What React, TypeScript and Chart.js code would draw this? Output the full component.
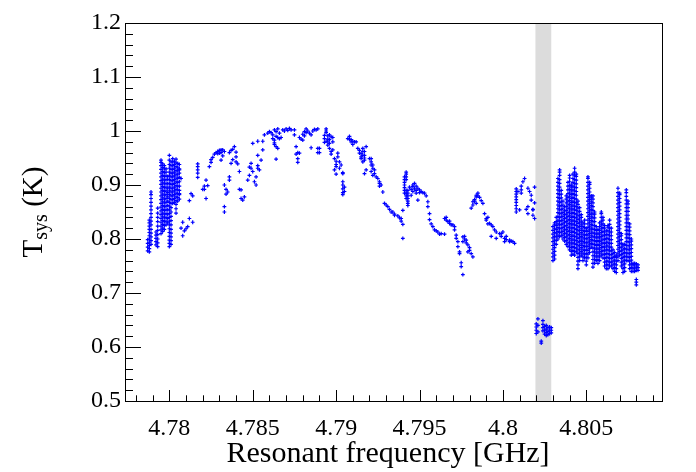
import { useEffect, useRef } from "react";
import { Chart, registerables } from "chart.js";

Chart.register(...registerables);

// each row: [frequency GHz, Tsys K, Tsys K, ...]
const leftScan: number[][] = [
  [4.7787, 0.778, 0.785, 0.792, 0.799],
  [4.7788, 0.776, 0.782, 0.788, 0.794, 0.8, 0.806, 0.812, 0.818, 0.824, 0.83, 0.835],
  [4.7789, 0.79, 0.797, 0.804, 0.811, 0.818, 0.826, 0.833, 0.84, 0.847, 0.854, 0.861, 0.868, 0.875, 0.882, 0.887],
  [4.7792, 0.789, 0.795, 0.801, 0.807, 0.813],
  [4.7793, 0.786, 0.793, 0.8, 0.808, 0.816, 0.824, 0.832, 0.84, 0.848, 0.857],
  [4.7795, 0.81, 0.817, 0.824, 0.831, 0.838, 0.845, 0.852, 0.859, 0.866, 0.873, 0.88, 0.887, 0.894, 0.901, 0.908, 0.915, 0.922, 0.929, 0.936, 0.942, 0.946],
  [4.7796, 0.814, 0.82, 0.827, 0.834, 0.841, 0.848, 0.855, 0.862, 0.869, 0.876, 0.883, 0.89, 0.897, 0.904, 0.911, 0.918, 0.925, 0.932, 0.939],
  [4.7797, 0.818, 0.825, 0.832, 0.839, 0.846, 0.853, 0.86, 0.867, 0.874, 0.881, 0.888, 0.895, 0.902, 0.909, 0.916, 0.923, 0.93, 0.936],
  [4.7798, 0.826, 0.833, 0.84, 0.847, 0.854, 0.861, 0.868, 0.875, 0.882, 0.889, 0.896, 0.903, 0.91, 0.917, 0.924, 0.93],
  [4.7799, 0.83, 0.838, 0.846, 0.854, 0.862, 0.87, 0.878, 0.886, 0.894, 0.902, 0.91, 0.916],
  [4.78, 0.786, 0.792, 0.798, 0.805, 0.812, 0.819, 0.826, 0.833, 0.84, 0.847, 0.854, 0.861, 0.868, 0.875, 0.882, 0.889, 0.896, 0.903, 0.91, 0.917, 0.924, 0.931, 0.938, 0.946, 0.955],
  [4.7801, 0.79, 0.797, 0.804, 0.811, 0.818, 0.826, 0.834, 0.842, 0.85, 0.858, 0.866, 0.873, 0.88, 0.887, 0.894, 0.901, 0.908, 0.915, 0.922, 0.929, 0.936, 0.943],
  [4.7802, 0.866, 0.873, 0.88, 0.887, 0.894, 0.901, 0.908, 0.915, 0.922, 0.929, 0.936, 0.943, 0.949],
  [4.7803, 0.868, 0.875, 0.882, 0.889, 0.896, 0.903, 0.91, 0.917, 0.924, 0.931, 0.938, 0.944],
  [4.7804, 0.848, 0.856, 0.864, 0.871, 0.878, 0.885, 0.892, 0.899, 0.906, 0.913, 0.92, 0.927, 0.934, 0.941, 0.948],
  [4.7805, 0.87, 0.877, 0.884, 0.891, 0.898, 0.905, 0.912, 0.919, 0.926, 0.933, 0.94],
  [4.7806, 0.874, 0.882, 0.89, 0.898, 0.906, 0.914, 0.922, 0.93, 0.938],
];

const midScan: number[][] = [
  [4.7806, 0.928], [4.7807, 0.912], [4.7806, 0.884],
  [4.7808, 0.831], [4.7807, 0.82], [4.7809, 0.815], [4.781, 0.819], [4.7811, 0.823], [4.7812, 0.838], [4.7814, 0.831], [4.7808, 0.806],
  [4.7812, 0.871], [4.7813, 0.884], [4.7814, 0.88],
  [4.7817, 0.939, 0.934, 0.928, 0.922, 0.914],
  [4.782, 0.892], [4.7821, 0.892, 0.898], [4.7822, 0.909, 0.875], [4.7823, 0.899],
  [4.7824, 0.934], [4.7825, 0.942, 0.947], [4.7826, 0.951], [4.7827, 0.957],
  [4.7828, 0.96], [4.7829, 0.962, 0.958], [4.783, 0.964, 0.959], [4.7831, 0.965, 0.96, 0.946], [4.7832, 0.965, 0.954], [4.7833, 0.962],
  [4.7833, 0.9, 0.86, 0.85], [4.7834, 0.892, 0.883], [4.7835, 0.887], [4.7836, 0.909, 0.915],
  [4.7836, 0.96], [4.7837, 0.964, 0.94], [4.7838, 0.966, 0.947], [4.7839, 0.971], [4.784, 0.961, 0.952, 0.943], [4.7841, 0.939],
  [4.7842, 0.925, 0.892], [4.7843, 0.891, 0.875], [4.7844, 0.872], [4.7845, 0.878],
  [4.7847, 0.909], [4.7848, 0.918, 0.933], [4.7849, 0.931, 0.94], [4.785, 0.925, 0.977], [4.7851, 0.906],
  [4.7852, 0.9, 0.915], [4.7853, 0.931, 0.936, 0.955, 0.981], [4.7854, 0.928], [4.7855, 0.946], [4.7856, 0.965, 0.981],
  [4.7857, 0.993], [4.7859, 0.996], [4.786, 0.999], [4.7861, 0.997],
  [4.7862, 0.986, 0.993], [4.7863, 1.002, 0.983, 0.975, 0.978], [4.7864, 0.999, 0.971, 0.948, 0.99], [4.7865, 1.004, 0.988, 0.968], [4.7866, 0.986, 0.996], [4.7867, 0.988],
  [4.7868, 1.002], [4.7869, 1.0], [4.787, 1.004], [4.7871, 1.001], [4.7872, 1.005], [4.7873, 1.002], [4.7875, 1.002, 0.993],
  [4.7876, 0.971, 0.957], [4.7877, 0.96, 0.949, 0.942], [4.7878, 0.959, 0.988], [4.7879, 0.985],
  [4.788, 0.994, 0.983], [4.7881, 0.999, 0.991], [4.7882, 1.004, 0.997], [4.7883, 1.0], [4.7884, 0.996],
  [4.7885, 0.969, 0.993], [4.7886, 1.0], [4.7887, 1.003], [4.7888, 1.002], [4.7889, 1.004, 0.968, 0.96], [4.789, 0.968, 0.96],
  [4.7893, 0.979, 0.986, 0.992], [4.7894, 1.004, 0.997, 0.981, 1.0], [4.7895, 0.991, 0.985, 0.98, 0.974], [4.7896, 0.993, 0.977, 0.984, 0.968],
  [4.7897, 0.989, 0.962, 0.957], [4.7898, 0.98, 0.988, 0.965],
  [4.7899, 0.949, 0.928], [4.79, 0.938, 0.934, 0.92, 0.944], [4.7901, 0.959, 0.952], [4.7902, 0.943, 0.931], [4.7903, 0.937],
  [4.7904, 0.923, 0.921, 0.906, 0.9, 0.893, 0.886, 0.882], [4.7905, 0.896, 0.888],
  [4.7907, 0.986], [4.7908, 0.985, 0.99], [4.7909, 0.98, 0.984], [4.791, 0.975, 0.981], [4.7911, 0.98], [4.7912, 0.98],
  [4.7913, 0.968], [4.7914, 0.959, 0.964], [4.7915, 0.952, 0.949, 0.958], [4.7916, 0.968, 0.943, 0.955, 0.962], [4.7917, 0.962, 0.955, 0.946, 0.921, 0.95], [4.7918, 0.971, 0.928],
  [4.792, 0.949], [4.7921, 0.943, 0.949, 0.937, 0.925], [4.7922, 0.931, 0.937, 0.918], [4.7923, 0.928, 0.921], [4.7924, 0.915], [4.7925, 0.912],
  [4.7926, 0.906, 0.903, 0.898], [4.7927, 0.9], [4.7928, 0.887],
  [4.7929, 0.866], [4.793, 0.863], [4.7931, 0.86], [4.7932, 0.855], [4.7933, 0.85], [4.7934, 0.85], [4.7935, 0.844, 0.846],
  [4.7937, 0.843], [4.7938, 0.839], [4.7939, 0.838, 0.833], [4.794, 0.853, 0.827, 0.801],
  [4.7941, 0.885, 0.89, 0.895, 0.9, 0.905, 0.91, 0.915],
  [4.7942, 0.875, 0.88, 0.885, 0.89, 0.91, 0.915, 0.92, 0.924],
  [4.7943, 0.862, 0.866, 0.87, 0.875, 0.88, 0.885, 0.89],
  [4.7944, 0.896], [4.7945, 0.881, 0.892], [4.7946, 0.897, 0.9, 0.888], [4.7947, 0.903, 0.893], [4.7948, 0.898, 0.885, 0.89],
  [4.7949, 0.894, 0.872], [4.795, 0.891, 0.886], [4.7951, 0.888], [4.7952, 0.886], [4.7953, 0.885], [4.7954, 0.88],
  [4.7955, 0.869, 0.86], [4.7956, 0.847, 0.836], [4.7957, 0.828], [4.7958, 0.823], [4.7959, 0.817], [4.796, 0.815],
  [4.7961, 0.813], [4.7962, 0.809], [4.7963, 0.81], [4.7965, 0.809, 0.838],
  [4.7966, 0.835, 0.84], [4.7967, 0.832], [4.7968, 0.829, 0.833], [4.7969, 0.826], [4.797, 0.826], [4.7971, 0.823, 0.817],
  [4.7972, 0.807, 0.801], [4.7973, 0.795, 0.786], [4.7974, 0.776, 0.773], [4.7975, 0.756, 0.749], [4.7976, 0.734, 0.804, 0.795],
  [4.7977, 0.805, 0.8], [4.7978, 0.793, 0.798], [4.7979, 0.789, 0.776], [4.798, 0.784, 0.779], [4.7981, 0.773], [4.7982, 0.767],
  [4.7981, 0.857], [4.7982, 0.863, 0.869], [4.7983, 0.873, 0.87], [4.7984, 0.878, 0.881, 0.866], [4.7985, 0.885, 0.88],
  [4.7986, 0.877], [4.7987, 0.871], [4.7988, 0.866],
  [4.7989, 0.847], [4.799, 0.838, 0.835], [4.7991, 0.84, 0.828], [4.7992, 0.829], [4.7993, 0.826, 0.805], [4.7994, 0.823],
  [4.7995, 0.817], [4.7996, 0.813, 0.801], [4.7998, 0.81], [4.7999, 0.81, 0.805], [4.8, 0.813], [4.8001, 0.801, 0.795],
  [4.8002, 0.799, 0.805], [4.8004, 0.795, 0.798], [4.8005, 0.796], [4.8006, 0.795], [4.8007, 0.792],
  [4.8008, 0.85, 0.856, 0.862, 0.868, 0.873, 0.878, 0.883, 0.888, 0.893],
  [4.8009, 0.888], [4.801, 0.854], [4.8011, 0.898, 0.891, 0.885], [4.8012, 0.906], [4.8013, 0.912],
  [4.8014, 0.855], [4.8015, 0.894, 0.847, 0.86], [4.8016, 0.888], [4.8017, 0.881, 0.872],
  [4.8018, 0.855, 0.854, 0.844], [4.8019, 0.838, 0.896, 0.867],
];

// points measured inside the vetoed window
const vetoedScan: number[][] = [
  [4.802, 0.625, 0.631, 0.637, 0.643],
  [4.8021, 0.628, 0.64, 0.652],
  [4.8023, 0.607, 0.611],
  [4.8024, 0.63, 0.636, 0.642, 0.649],
  [4.8025, 0.624, 0.631, 0.638],
  [4.8026, 0.621, 0.627, 0.633, 0.64],
  [4.8027, 0.623, 0.629, 0.636],
  [4.8028, 0.625, 0.631, 0.637],
  [4.8029, 0.626, 0.631, 0.636],
];

const rightScan: number[][] = [
  [4.803, 0.76, 0.767, 0.774, 0.781, 0.788, 0.795, 0.802, 0.809, 0.816, 0.823],
  [4.8031, 0.763, 0.77, 0.777, 0.784, 0.791, 0.798, 0.805, 0.812, 0.819, 0.826, 0.83],
  [4.8032, 0.79, 0.797, 0.804, 0.811, 0.818, 0.825, 0.832, 0.84],
  [4.8033, 0.8, 0.807, 0.814, 0.821, 0.828, 0.835, 0.842, 0.849, 0.856, 0.863, 0.87, 0.877, 0.884, 0.891, 0.898, 0.905, 0.912],
  [4.8034, 0.805, 0.812, 0.819, 0.826, 0.833, 0.84, 0.847, 0.854, 0.861, 0.868, 0.875, 0.882, 0.889, 0.896, 0.903, 0.91, 0.918, 0.924, 0.928],
  [4.8035, 0.806, 0.813, 0.82, 0.827, 0.834, 0.841, 0.848, 0.855, 0.862, 0.869, 0.876, 0.883, 0.89],
  [4.8036, 0.8, 0.807, 0.814, 0.821, 0.828, 0.835, 0.842, 0.849, 0.856, 0.863, 0.87],
  [4.8037, 0.796, 0.803, 0.81, 0.817, 0.824, 0.831, 0.838, 0.845, 0.852, 0.86],
  [4.8038, 0.79, 0.797, 0.804, 0.811, 0.818, 0.825, 0.832, 0.839, 0.846, 0.853, 0.86, 0.867, 0.874, 0.88],
  [4.8039, 0.786, 0.793, 0.8, 0.807, 0.814, 0.821, 0.828, 0.835, 0.842, 0.849, 0.856, 0.863, 0.87, 0.877, 0.884, 0.891, 0.898, 0.905],
  [4.804, 0.78, 0.787, 0.794, 0.801, 0.808, 0.815, 0.822, 0.829, 0.836, 0.843, 0.85, 0.857, 0.864, 0.871, 0.878, 0.885, 0.892, 0.899, 0.906, 0.913, 0.918],
  [4.8041, 0.77, 0.777, 0.784, 0.791, 0.798, 0.805, 0.812, 0.819, 0.826, 0.833, 0.84, 0.847, 0.854, 0.861, 0.868, 0.875, 0.882, 0.889, 0.896, 0.9],
  [4.8042, 0.772, 0.779, 0.786, 0.793, 0.8, 0.807, 0.814, 0.821, 0.828, 0.835, 0.842, 0.849, 0.856, 0.863, 0.87, 0.877, 0.884, 0.891, 0.898, 0.905, 0.912, 0.92],
  [4.8043, 0.77, 0.777, 0.784, 0.791, 0.798, 0.805, 0.812, 0.819, 0.826, 0.833, 0.84, 0.847, 0.854, 0.861, 0.868, 0.875, 0.882, 0.889, 0.896, 0.903, 0.91, 0.917, 0.924, 0.931],
  [4.8044, 0.776, 0.783, 0.79, 0.797, 0.804, 0.811, 0.818, 0.825, 0.832, 0.839, 0.846, 0.853, 0.86, 0.867, 0.874, 0.881, 0.888, 0.895, 0.902, 0.909, 0.916, 0.92],
  [4.8045, 0.745, 0.752, 0.759, 0.766, 0.773, 0.78, 0.787, 0.794, 0.801, 0.808, 0.815, 0.822, 0.829, 0.836, 0.843, 0.85, 0.857, 0.864, 0.87],
  [4.8046, 0.76, 0.767, 0.774, 0.781, 0.788, 0.795, 0.802, 0.809, 0.816, 0.823, 0.83, 0.837, 0.844, 0.851, 0.858],
  [4.8047, 0.77, 0.777, 0.784, 0.791, 0.798, 0.805, 0.812, 0.819, 0.826, 0.833, 0.84, 0.845],
  [4.8048, 0.76, 0.767, 0.774, 0.781, 0.788, 0.795, 0.802, 0.809, 0.816, 0.823, 0.83],
  [4.8049, 0.765, 0.772, 0.779, 0.786, 0.793, 0.8, 0.807, 0.814, 0.821, 0.828, 0.835],
  [4.805, 0.752, 0.759, 0.766, 0.773, 0.78, 0.787, 0.794, 0.801, 0.808, 0.815, 0.82],
  [4.8051, 0.765, 0.772, 0.779, 0.786, 0.793, 0.8, 0.807, 0.814, 0.821, 0.828, 0.835, 0.842, 0.849, 0.856, 0.863, 0.87, 0.877, 0.884, 0.891, 0.898, 0.905, 0.912, 0.915],
  [4.8052, 0.775, 0.782, 0.789, 0.796, 0.803, 0.81, 0.817, 0.824, 0.831, 0.838, 0.845, 0.852, 0.859, 0.866, 0.873, 0.88, 0.887, 0.894, 0.901, 0.905],
  [4.8053, 0.785, 0.792, 0.799, 0.806, 0.813, 0.82, 0.827, 0.834, 0.841, 0.848, 0.855, 0.862, 0.869, 0.876, 0.88],
  [4.8054, 0.748, 0.755, 0.762, 0.769, 0.776, 0.783, 0.79, 0.797, 0.804, 0.811, 0.818, 0.825, 0.832, 0.839, 0.846, 0.853, 0.86, 0.867, 0.874, 0.88],
  [4.8055, 0.755, 0.762, 0.769, 0.776, 0.783, 0.79, 0.797, 0.804, 0.811, 0.818, 0.825, 0.832, 0.839, 0.846, 0.85],
  [4.8056, 0.76, 0.767, 0.774, 0.781, 0.788, 0.795, 0.802, 0.809, 0.816, 0.823],
  [4.8057, 0.755, 0.762, 0.769, 0.776, 0.783, 0.79, 0.797, 0.804, 0.811, 0.818],
  [4.8058, 0.76, 0.767, 0.774, 0.781, 0.788, 0.795, 0.802, 0.809, 0.816, 0.823, 0.83],
  [4.8059, 0.77, 0.777, 0.784, 0.791, 0.798, 0.805, 0.812, 0.819, 0.826, 0.833, 0.84, 0.847, 0.85],
  [4.806, 0.765, 0.772, 0.779, 0.786, 0.793, 0.8, 0.807, 0.814, 0.821, 0.828, 0.835, 0.84],
  [4.8061, 0.75, 0.757, 0.764, 0.771, 0.778, 0.785, 0.792, 0.799, 0.806, 0.813, 0.82, 0.825],
  [4.8062, 0.745, 0.752, 0.759, 0.766, 0.773, 0.78, 0.787, 0.794, 0.801, 0.808, 0.815],
  [4.8063, 0.745, 0.752, 0.759, 0.766, 0.773, 0.78, 0.787, 0.794, 0.801, 0.808, 0.815, 0.822, 0.825],
  [4.8064, 0.75, 0.757, 0.764, 0.771, 0.778, 0.785, 0.792, 0.799, 0.806, 0.813, 0.82, 0.827, 0.835],
  [4.8065, 0.75, 0.757, 0.764, 0.771, 0.778, 0.785, 0.792, 0.799, 0.806, 0.813, 0.82],
  [4.8066, 0.745, 0.752, 0.759, 0.766, 0.773, 0.78],
  [4.8067, 0.74, 0.747, 0.754, 0.761, 0.768, 0.775],
  [4.8068, 0.738, 0.745, 0.752, 0.759, 0.766, 0.77],
  [4.8069, 0.76, 0.767, 0.774, 0.781, 0.788, 0.795, 0.802, 0.809, 0.816, 0.823, 0.83, 0.837, 0.844, 0.851, 0.858, 0.865, 0.872, 0.879, 0.886, 0.894],
  [4.807, 0.77, 0.777, 0.784, 0.791, 0.798, 0.805, 0.812, 0.819, 0.826, 0.833, 0.84, 0.847, 0.854, 0.861, 0.868, 0.875, 0.882, 0.885],
  [4.8071, 0.75, 0.757, 0.764, 0.771, 0.778, 0.785, 0.792, 0.799, 0.806, 0.81],
  [4.8072, 0.738, 0.745, 0.752, 0.759, 0.766, 0.773, 0.78, 0.787, 0.79],
  [4.8073, 0.74, 0.747, 0.754, 0.761, 0.768, 0.775, 0.782, 0.79],
  [4.8074, 0.76, 0.767, 0.774, 0.781, 0.788, 0.795, 0.802, 0.809, 0.816, 0.823, 0.83, 0.837, 0.844, 0.851, 0.858, 0.865, 0.872, 0.879, 0.886, 0.891],
  [4.8075, 0.76, 0.767, 0.774, 0.781, 0.788, 0.795, 0.802, 0.809, 0.816, 0.823, 0.83, 0.837, 0.844, 0.851, 0.858, 0.865, 0.87],
  [4.8076, 0.745, 0.752, 0.759, 0.766, 0.773, 0.78, 0.787, 0.794, 0.801, 0.808, 0.815, 0.822, 0.828],
  [4.8077, 0.74, 0.747, 0.754, 0.761, 0.768, 0.775, 0.782, 0.789, 0.796, 0.8],
  [4.8078, 0.74, 0.746, 0.752, 0.755],
  [4.8079, 0.74, 0.746, 0.752, 0.755],
  [4.808, 0.715, 0.72, 0.725, 0.742, 0.748, 0.754],
  [4.8081, 0.742, 0.747, 0.752],
];

const vetoWindow = [4.80195, 4.8029];
const xRange = [4.77734, 4.80954];
const yRange = [0.5, 1.2];
const xTitle = "Resonant frequency [GHz]";

const FONT = '"Liberation Serif", "Times New Roman", serif';

const toPoints = (rows: number[][]) =>
  rows.flatMap(([f, ...ts]) => ts.map((t) => ({ x: f, y: t })));

const vetoPlugin = {
  id: "vetoBand",
  beforeDatasetsDraw(chart: any) {
    const { ctx, chartArea, scales } = chart;
    const x0 = scales.x.getPixelForValue(vetoWindow[0]);
    const x1 = scales.x.getPixelForValue(vetoWindow[1]);
    ctx.save();
    ctx.fillStyle = "#dcdcdc";
    ctx.fillRect(x0, chartArea.top, x1 - x0, chartArea.bottom - chartArea.top);
    ctx.restore();
  },
};

// ROOT-like frame with ticks pointing inwards
const framePlugin = {
  id: "rootFrame",
  afterDraw(chart: any) {
    const { ctx, chartArea: a, scales } = chart;
    ctx.save();
    ctx.strokeStyle = "#000";
    ctx.lineWidth = 1;
    ctx.beginPath();
    const xs = scales.x;
    for (let v = Math.ceil(xs.min / 0.001) * 0.001; v <= xs.max; v += 0.001) {
      const px = Math.round(xs.getPixelForValue(v)) + 0.5;
      const major = Math.abs(v / 0.005 - Math.round(v / 0.005)) < 1e-6;
      ctx.moveTo(px, a.bottom);
      ctx.lineTo(px, a.bottom - (major ? 11 : 5.7));
    }
    const ys = scales.y;
    for (let v = ys.min; v <= ys.max + 1e-9; v += 0.02) {
      const py = Math.round(ys.getPixelForValue(v)) + 0.5;
      const major = Math.abs(v / 0.1 - Math.round(v / 0.1)) < 1e-6;
      ctx.moveTo(a.left, py);
      ctx.lineTo(a.left + (major ? 16 : 8), py);
    }
    ctx.stroke();
    ctx.strokeRect(Math.round(a.left) + 0.5, Math.round(a.top) + 0.5, Math.round(a.right - a.left), Math.round(a.bottom - a.top));
    ctx.restore();
  },
};

// axis titles, the y one with a subscript: T_sys (K)
const titlesPlugin = {
  id: "axisTitles",
  afterDraw(chart: any) {
    const { ctx } = chart;
    const big = `29px ${FONT}`;
    const small = `20px ${FONT}`;
    ctx.save();
    ctx.fillStyle = "#000";
    ctx.textBaseline = "alphabetic";

    ctx.font = `30px ${FONT}`;
    ctx.textAlign = "center";
    ctx.fillText(xTitle, 388, 462);
    ctx.textAlign = "left";

    ctx.translate(42, 212);
    ctx.rotate(-Math.PI / 2);
    ctx.font = big;
    const wT = ctx.measureText("T").width;
    const wK = ctx.measureText(" (K)").width;
    ctx.font = small;
    const wS = ctx.measureText("sys").width;
    let x = -(wT + wS + wK) / 2;
    ctx.font = big;
    ctx.fillText("T", x, 0);
    x += wT;
    ctx.font = small;
    ctx.fillText("sys", x, 5);
    x += wS;
    ctx.font = big;
    ctx.fillText(" (K)", x, 0);
    ctx.restore();
  },
};

const TsysChart = () => {
  const canvasRef = useRef<HTMLCanvasElement | null>(null);

  useEffect(() => {
    if (!canvasRef.current) return;
    const points = [
      ...toPoints(leftScan),
      ...toPoints(midScan),
      ...toPoints(vetoedScan),
      ...toPoints(rightScan),
    ];
    const chart = new Chart(canvasRef.current, {
      type: "scatter",
      data: {
        datasets: [
          {
            data: points,
            pointStyle: "cross",
            pointRadius: 1.9,
            pointHoverRadius: 1.9,
            pointBorderWidth: 1.2,
            borderColor: "#0000ff",
            backgroundColor: "#0000ff",
          },
        ],
      },
      options: {
        animation: false,
        responsive: true,
        maintainAspectRatio: false,
        layout: { padding: { top: 23, right: 34, left: 0, bottom: 0 } },
        plugins: { legend: { display: false }, tooltip: { enabled: false } },
        scales: {
          x: {
            type: "linear",
            min: xRange[0],
            max: xRange[1],
            afterFit: (s: any) => {
              s.height = 71;
            },
            grid: { display: false, drawTicks: false, tickLength: 0 },
            border: { display: false },
            ticks: {
              stepSize: 0.005,
              includeBounds: false,
              autoSkip: false,
              maxRotation: 0,
              padding: 13,
              color: "#000",
              font: { family: FONT, size: 24 },
              callback: (v: any) => parseFloat(Number(v).toFixed(4)).toString(),
            },
          },
          y: {
            type: "linear",
            min: yRange[0],
            max: yRange[1],
            afterFit: (s: any) => {
              s.width = 125;
            },
            grid: { display: false, drawTicks: false, tickLength: 0 },
            border: { display: false },
            ticks: {
              stepSize: 0.1,
              autoSkip: false,
              padding: 4,
              color: "#000",
              font: { family: FONT, size: 24 },
              callback: (v: any) => parseFloat(Number(v).toFixed(2)).toString(),
            },
          },
        },
      },
      plugins: [vetoPlugin, framePlugin, titlesPlugin],
    });
    return () => chart.destroy();
  }, []);

  return (
    <div style={{ position: "absolute", left: 0, top: 0, width: 696, height: 472, background: "#fff" }}>
      <canvas ref={canvasRef}></canvas>
    </div>
  );
};

export default function App() {
  return <TsysChart />;
}
